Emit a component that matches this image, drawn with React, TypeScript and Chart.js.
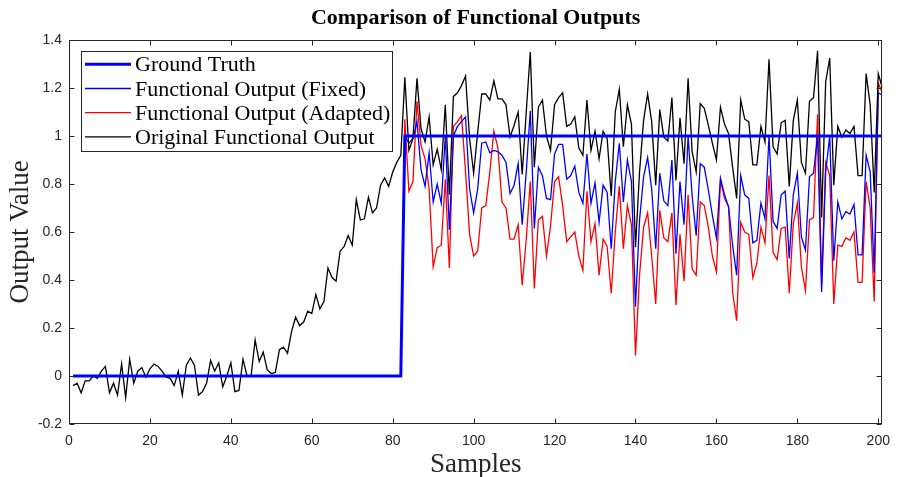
import { useEffect, useRef } from "react";
import { Chart, registerables } from "chart.js";

Chart.register(...registerables);

// Sample indices (x categories)
const samples: number[] = Array.from({ length: 201 }, (_, i) => i + 1);

const groundTruth: number[] = [
  0, 0, 0, 0, 0, 0, 0, 0, 0, 0, 0, 0, 0, 0, 0, 0, 0, 0, 0, 0,
  0, 0, 0, 0, 0, 0, 0, 0, 0, 0, 0, 0, 0, 0, 0, 0, 0, 0, 0, 0,
  0, 0, 0, 0, 0, 0, 0, 0, 0, 0, 0, 0, 0, 0, 0, 0, 0, 0, 0, 0,
  0, 0, 0, 0, 0, 0, 0, 0, 0, 0, 0, 0, 0, 0, 0, 0, 0, 0, 0, 0,
  0, 0,
  1, 1, 1, 1, 1, 1, 1, 1, 1, 1, 1, 1, 1, 1, 1, 1, 1, 1, 1, 1,
  1, 1, 1, 1, 1, 1, 1, 1, 1, 1, 1, 1, 1, 1, 1, 1, 1, 1, 1, 1,
  1, 1, 1, 1, 1, 1, 1, 1, 1, 1, 1, 1, 1, 1, 1, 1, 1, 1, 1, 1,
  1, 1, 1, 1, 1, 1, 1, 1, 1, 1, 1, 1, 1, 1, 1, 1, 1, 1, 1, 1,
  1, 1, 1, 1, 1, 1, 1, 1, 1, 1, 1, 1, 1, 1, 1, 1, 1, 1, 1, 1,
  1, 1, 1, 1, 1, 1, 1, 1, 1, 1, 1, 1, 1, 1, 1, 1, 1, 1, 1,
];

const fixedOutput: number[] = [
  0, 0, 0, 0, 0, 0, 0, 0, 0, 0, 0, 0, 0, 0, 0, 0, 0, 0, 0, 0,
  0, 0, 0, 0, 0, 0, 0, 0, 0, 0, 0, 0, 0, 0, 0, 0, 0, 0, 0, 0,
  0, 0, 0, 0, 0, 0, 0, 0, 0, 0, 0, 0, 0, 0, 0, 0, 0, 0, 0, 0,
  0, 0, 0, 0, 0, 0, 0, 0, 0, 0, 0, 0, 0, 0, 0, 0, 0, 0, 0, 0,
  0, 0,
  1.0, 0.97, 0.99, 1.06, 0.86, 0.79, 0.93, 0.725, 0.8, 0.72, 1.0, 0.61, 1.0, 1.04, 1.06, 1.08,
  0.78, 0.68, 0.78, 0.97, 0.975, 0.93, 0.94, 0.935, 0.92, 0.89,
  0.76, 0.795, 0.885, 0.63, 0.85, 1.105, 0.615, 0.87, 0.835, 0.74, 0.735, 0.925, 0.965, 0.965,
  0.82, 0.835, 0.875, 0.765, 0.72, 0.925, 0.72, 0.805, 0.64, 0.795, 0.765, 0.53, 0.81, 0.97, 0.725,
  0.9, 0.81, 0.29, 0.65, 0.83, 0.91, 0.78, 0.53, 0.845, 0.73, 0.71, 0.9, 0.51, 0.81, 0.63, 1.0,
  0.75, 0.585, 0.885, 0.87, 0.775, 0.67, 0.575, 0.825, 0.755, 0.705, 0.545, 0.42, 0.835,
  0.755, 0.74, 0.555, 0.565, 0.72, 0.655, 1.0, 0.645, 0.615, 0.755, 0.77, 0.49, 0.755, 0.845,
  0.58, 0.525, 0.83, 0.845, 1.0, 0.35, 0.85, 1.0, 0.48, 0.725, 0.655, 0.685, 0.675, 0.715,
  0.505, 0.505, 0.92, 0.85, 0.43, 1.18, 1.17,
];

const adaptedOutput: number[] = [
  0, 0, 0, 0, 0, 0, 0, 0, 0, 0, 0, 0, 0, 0, 0, 0, 0, 0, 0, 0,
  0, 0, 0, 0, 0, 0, 0, 0, 0, 0, 0, 0, 0, 0, 0, 0, 0, 0, 0, 0,
  0, 0, 0, 0, 0, 0, 0, 0, 0, 0, 0, 0, 0, 0, 0, 0, 0, 0, 0, 0,
  0, 0, 0, 0, 0, 0, 0, 0, 0, 0, 0, 0, 0, 0, 0, 0, 0, 0, 0, 0,
  0, 0,
  1.07, 0.77, 0.81, 1.145, 0.96, 0.905, 0.78, 0.455, 0.535, 0.545, 0.82, 0.45, 1.04, 1.06, 1.085,
  0.85, 0.59, 0.5, 0.52, 0.7, 0.71, 0.85, 1.02, 0.95, 0.725, 0.7,
  0.57, 0.57, 0.63, 0.378, 0.57, 0.81, 0.365, 0.65, 0.665, 0.5, 0.625, 0.81, 0.83, 0.71,
  0.56, 0.58, 0.6, 0.5, 0.44, 0.77, 0.56, 0.635, 0.42, 0.57, 0.54, 0.345, 0.6, 0.79, 0.53,
  0.71, 0.63, 0.085, 0.42, 0.62, 0.68, 0.5, 0.3, 0.69, 0.575, 0.56, 0.68, 0.295, 0.59, 0.395,
  0.755, 0.447, 0.42, 0.725, 0.71, 0.62, 0.5, 0.433, 0.815, 0.74, 0.705, 0.35, 0.23, 0.64,
  0.6, 0.59, 0.41, 0.47, 0.62, 0.555, 0.835, 0.515, 0.485, 0.615, 0.62, 0.345, 0.635, 0.72,
  0.455, 0.355, 0.65, 0.66, 1.09, 0.39, 0.89, 0.835, 0.3, 0.545, 0.54, 0.575, 0.565, 0.6,
  0.39, 0.39, 0.81, 0.7, 0.31, 1.22, 1.18,
];

const originalOutput: number[] = [
  -0.04, -0.03, -0.07, -0.02, -0.02, 0.0, -0.01, 0.02, 0.04, -0.07, -0.03, -0.08, 0.05, -0.09,
  0.07, -0.03, 0.02, 0.035, -0.005, 0.03, 0.05, 0.04, 0.02, -0.005, -0.01, -0.04, 0.02, -0.08,
  0.045, 0.075, 0.045, -0.08, -0.065, -0.03, 0.065, 0.02, 0.055, -0.045, 0.0, 0.055, -0.065, -0.06,
  0.07, 0.0, 0.0, 0.15, 0.06, 0.1, 0.025, 0.01, 0.015, 0.11, 0.12, 0.095, 0.185, 0.245, 0.21,
  0.225, 0.27, 0.26, 0.34, 0.28, 0.31, 0.45, 0.41, 0.395, 0.52, 0.54, 0.585, 0.545, 0.735, 0.65,
  0.655, 0.745, 0.68, 0.7, 0.795, 0.825, 0.79, 0.85, 0.89, 0.92,
  1.245, 0.94, 0.99, 1.24, 1.03, 0.975, 1.08, 0.88, 0.945, 0.86, 1.13, 0.755, 1.165, 1.18, 1.21,
  1.25, 0.99, 0.845, 1.015, 1.175, 1.175, 1.15, 1.23, 1.155, 1.155, 1.13,
  0.995, 1.045, 1.1, 0.84, 1.1, 1.35, 0.87, 1.12, 1.15, 1.0, 0.94, 1.13, 1.16, 1.18, 1.04, 1.05,
  1.08, 0.95, 0.92, 1.15, 0.94, 1.02, 0.905, 1.02, 0.99, 0.75, 1.1, 1.195, 0.955,
  1.13, 1.05, 0.537, 0.85, 1.065, 1.175, 1.06, 0.795, 1.11, 0.995, 0.98, 1.16, 0.815, 1.075, 0.885,
  1.24, 0.935, 0.85, 1.135, 1.115, 1.045, 0.97, 0.9, 1.12, 1.05, 1.01, 0.87, 0.74, 1.15,
  1.07, 1.06, 0.88, 0.88, 1.04, 0.975, 1.32, 0.955, 0.925, 1.055, 1.065, 0.79, 1.065, 1.15, 0.89,
  0.845, 1.145, 1.16, 1.355, 0.66, 1.225, 1.325, 0.795, 1.04, 0.995, 1.025, 1.01, 1.04, 0.835,
  0.835, 1.26, 1.13, 0.765, 1.26, 1.2,
];

const xTicks: number[] = [0, 20, 40, 60, 80, 100, 120, 140, 160, 180, 200];
const yTicks: number[] = [-0.2, 0, 0.2, 0.4, 0.6, 0.8, 1, 1.2, 1.4];

const seriesLabels = [
  "Ground Truth",
  "Functional Output (Fixed)",
  "Functional Output (Adapted)",
  "Original Functional Output",
];
const titleText = "Comparison of Functional Outputs";

const AXIS_COLOR = "#262626";
const SERIF = "'Liberation Serif', 'Times New Roman', serif";
const SANS = "'Liberation Sans', Arial, Helvetica, sans-serif";

function toPoints(values: number[]) {
  return samples.map((s, i) => ({ x: s, y: values[i] }));
}

export default function App() {
  const ref = useRef<HTMLCanvasElement>(null);

  useEffect(() => {
    const canvas = ref.current;
    if (!canvas) return;

    const framePlugin = {
      id: "matlabFrame",
      afterDraw(chart: any) {
        const { ctx, chartArea: a, scales } = chart;
        const L = Math.round(a.left) + 0.5;
        const R = Math.round(a.right) - 0.5;
        const T = Math.round(a.top) + 0.5;
        const B = Math.round(a.bottom) - 0.5;
        ctx.save();
        // Box
        ctx.strokeStyle = AXIS_COLOR;
        ctx.lineWidth = 1;
        ctx.strokeRect(L, T, R - L, B - T);
        // Inward ticks
        ctx.beginPath();
        const tl = 5;
        xTicks.forEach((v) => {
          const px = Math.round(scales.x.getPixelForValue(v)) + 0.5;
          ctx.moveTo(px, B);
          ctx.lineTo(px, B - tl);
          ctx.moveTo(px, T);
          ctx.lineTo(px, T + tl);
        });
        yTicks.forEach((v) => {
          const py = Math.round(scales.y.getPixelForValue(v)) + 0.5;
          ctx.moveTo(L, py);
          ctx.lineTo(L + tl, py);
          ctx.moveTo(R, py);
          ctx.lineTo(R - tl, py);
        });
        ctx.stroke();

        // Title centered over axes
        ctx.fillStyle = "#000";
        ctx.font = `bold 22px ${SERIF}`;
        ctx.textAlign = "center";
        ctx.textBaseline = "middle";
        ctx.fillText(titleText, (a.left + a.right) / 2, 18);

        // Legend
        const bx = 81.5, by = 51.5, bw = 311, bh = 100;
        ctx.fillStyle = "#fff";
        ctx.fillRect(bx, by, bw, bh);
        ctx.strokeStyle = AXIS_COLOR;
        ctx.lineWidth = 1;
        ctx.strokeRect(bx, by, bw, bh);
        ctx.font = `22px ${SERIF}`;
        ctx.textAlign = "left";
        ctx.textBaseline = "alphabetic";
        chart.data.datasets.forEach((ds: any, i: number) => {
          const y = 64.3 + i * 24.2;
          ctx.beginPath();
          ctx.strokeStyle = ds.borderColor;
          ctx.lineWidth = ds.borderWidth;
          ctx.moveTo(85, y);
          ctx.lineTo(131, y);
          ctx.stroke();
          ctx.fillStyle = "#000";
          ctx.fillText(ds.label, 135, y + 7);
        });
        ctx.restore();
      },
    };

    const chart = new Chart(canvas, {
      type: "line",
      data: {
        datasets: [
          {
            label: seriesLabels[0],
            data: toPoints(groundTruth),
            borderColor: "#0000ff",
            borderWidth: 3,
            order: 0,
          },
          {
            label: seriesLabels[1],
            data: toPoints(fixedOutput),
            borderColor: "#0000ff",
            borderWidth: 1.3,
            order: 2,
          },
          {
            label: seriesLabels[2],
            data: toPoints(adaptedOutput),
            borderColor: "#ff0000",
            borderWidth: 1.3,
            order: 3,
          },
          {
            label: seriesLabels[3],
            data: toPoints(originalOutput),
            borderColor: "#000000",
            borderWidth: 1.3,
            order: 1,
          },
        ],
      },
      options: {
        animation: false,
        responsive: false,
        maintainAspectRatio: false,
        layout: { padding: { top: 40, right: 10, left: 0, bottom: 0 } },
        elements: {
          point: { radius: 0, hoverRadius: 0 },
          line: { tension: 0, fill: false },
        },
        plugins: {
          legend: { display: false },
          title: { display: false },
          tooltip: { enabled: false },
        },
        events: [],
        scales: {
          x: {
            type: "linear",
            min: 0,
            max: 201,
            grid: { display: false, drawTicks: false },
            border: { display: false },
            afterBuildTicks: (scale: any) => {
              scale.ticks = xTicks.map((value) => ({ value }));
            },
            afterFit: (scale: any) => {
              scale.height = 53;
            },
            ticks: {
              color: AXIS_COLOR,
              font: { family: SANS, size: 14 },
              padding: 9,
              maxRotation: 0,
              autoSkip: false,
              callback: (v: any) => String(v),
            },
            title: {
              display: true,
              text: "Samples",
              color: AXIS_COLOR,
              font: { family: SERIF, size: 27, lineHeight: 1 },
              padding: { top: 0, bottom: -1 },
            },
          },
          y: {
            type: "linear",
            min: -0.2,
            max: 1.4,
            grid: { display: false, drawTicks: false },
            border: { display: false },
            afterBuildTicks: (scale: any) => {
              scale.ticks = yTicks.map((value) => ({ value }));
            },
            afterFit: (scale: any) => {
              scale.width = 69;
            },
            ticks: {
              color: AXIS_COLOR,
              font: { family: SANS, size: 14 },
              padding: 7,
              autoSkip: false,
              callback: (v: any) => String(Math.round(Number(v) * 10) / 10),
            },
            title: {
              display: true,
              text: "Output Value",
              color: AXIS_COLOR,
              font: { family: SERIF, size: 27, lineHeight: 1 },
              padding: { top: 7, bottom: 0 },
            },
          },
        },
      },
      plugins: [framePlugin],
    });

    return () => {
      chart.destroy();
    };
  }, []);

  return (
    <div style={{ position: "absolute", left: 0, top: 0, width: 899, height: 477, background: "#fff" }}>
      <canvas ref={ref} width={899} height={477} style={{ display: "block" }} />
    </div>
  );
}
